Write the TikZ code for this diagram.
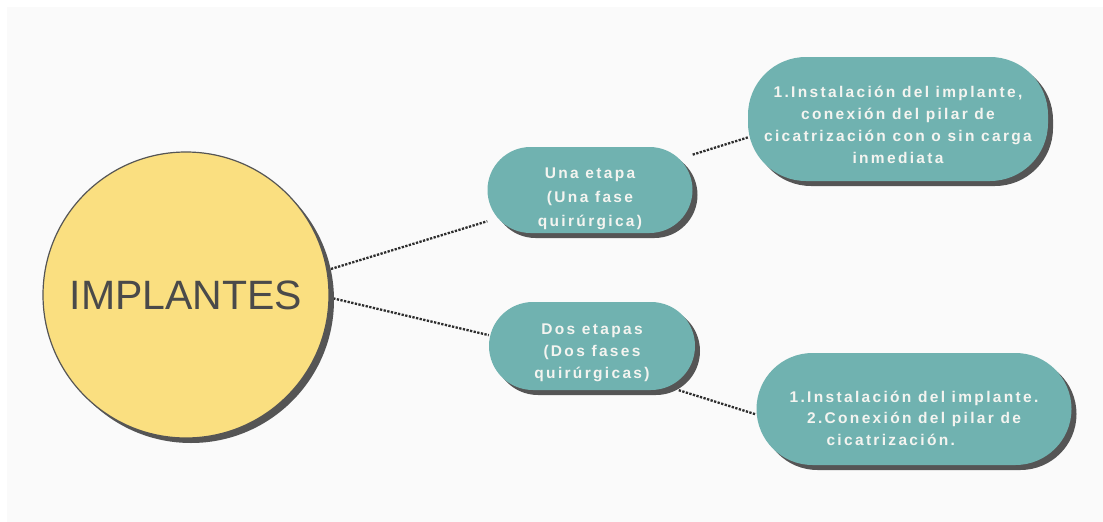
\documentclass[tikz,border=0pt]{standalone}
\usepackage{fontspec}
\setmainfont{Liberation Sans}
\newfontfamily\espaciada[LetterSpace=15]{Liberation Sans}
\usetikzlibrary{shadows}
\definecolor{fondo}{HTML}{FAFAFA}
\definecolor{amarillo}{RGB}{250,223,128}
\definecolor{verdeazul}{RGB}{112,178,176}
\definecolor{sombra}{RGB}{85,85,85}
\definecolor{textoclaro}{RGB}{244,244,240}
\definecolor{textooscuro}{RGB}{74,74,74}
\definecolor{punteado}{RGB}{45,45,45}
\pgfdeclarelayer{papel}
\pgfdeclarelayer{enlaces}
\pgfsetlayers{papel,enlaces,main}
\newcommand\bajar[1]{\rule{0pt}{#1}}
\tikzset{
    sombreado/.style={drop shadow={shadow xshift=5pt,shadow yshift=-5pt,fill=sombra,opacity=1}},
    fase/.style={rectangle, fill=verdeazul, text=textoclaro, align=center, inner sep=0pt,
        font=\espaciada\bfseries\fontsize{15.5}{22}\selectfont, sombreado},
    enlace/.style={draw=punteado, line width=2.3pt, dash pattern=on 2.3pt off 1.4pt}
}
\begin{document}
\begin{tikzpicture}[x=1pt,y=-1pt]
    \useasboundingbox (0,0) rectangle (1103,522);
    \begin{pgfonlayer}{papel}
        \fill[white] (0,0) rectangle (1103,522);
        \fill[fondo] (7,7) rectangle (1103,522);
    \end{pgfonlayer}
    % nodo central
    \node[circle, minimum size=286pt, inner sep=0pt, fill=amarillo, draw=sombra, line width=1.2pt,
          text=textooscuro, font=\fontsize{41}{48}\selectfont, sombreado] (impl) at (186,295) {IMPLANTES};
    % una etapa
    \node[fase, minimum width=205pt, minimum height=86pt, rounded corners=43pt,
          font=\espaciada\bfseries\fontsize{15.5}{24}\selectfont] (una) at (590,190)
        {\bajar{29pt}Una etapa\\(Una fase\\quirúrgica)};
    \node[fase, minimum width=300pt, minimum height=124pt, rounded corners=58pt] (inst1) at (898,119)
        {\bajar{24pt}1.Instalación del implante,\\conexión del pilar de\\cicatrización con o sin carga\\inmediata};
    % dos etapas
    \node[fase, minimum width=206pt, minimum height=88pt, rounded corners=44pt] (dos) at (592,346)
        {\bajar{25pt}Dos etapas\\(Dos fases\\quirúrgicas)};
    \node[fase, minimum width=315pt, minimum height=112pt, rounded corners=56pt,
          font=\espaciada\bfseries\fontsize{15.5}{21.5}\selectfont] (inst2) at (914,409)
        {\bajar{30pt}1.Instalación del implante.\\2.Conexión del pilar de\\cicatrización.\hspace*{3em}};
    \begin{pgfonlayer}{enlaces}
        \draw[enlace] (impl.10) -- (una);
        \draw[enlace] (una.19) -- (inst1.187);
        \draw[enlace] (impl.-1) -- (dos.174);
        \draw[enlace] (dos.-27) -- (inst2.182);
    \end{pgfonlayer}
\end{tikzpicture}
\end{document}
